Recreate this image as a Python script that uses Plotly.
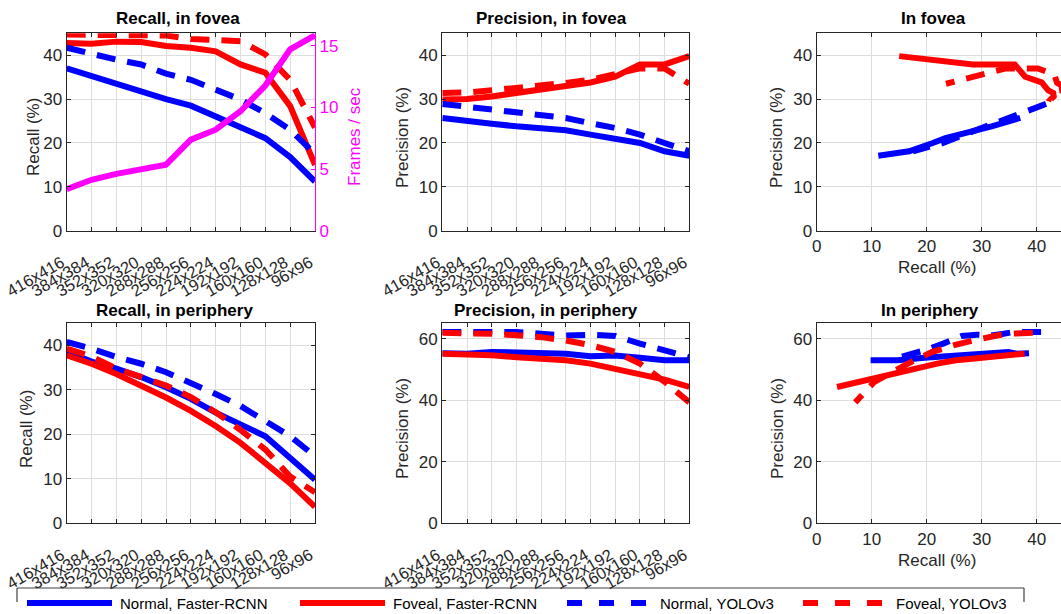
import plotly.graph_objects as go

W, H = 1061, 614

# ---------------- data ----------------
categories = ["416x416", "384x384", "352x352", "320x320", "288x288", "256x256",
              "224x224", "192x192", "160x160", "128x128", "96x96"]

# Recall, in fovea (%)
recall_fovea_normal_frcnn = [37.0, 35.2, 33.5, 31.8, 30.0, 28.5, 26.1, 23.4, 21.1, 16.8, 11.2]
recall_fovea_foveal_frcnn = [42.8, 42.6, 43.1, 43.0, 42.1, 41.7, 40.9, 37.9, 36.0, 28.4, 15.0]
recall_fovea_normal_yolo = [41.7, 40.2, 39.0, 37.9, 35.8, 34.4, 32.2, 29.9, 26.8, 23.0, 17.5]
recall_fovea_foveal_yolo = [44.7, 44.7, 44.6, 44.5, 44.5, 43.7, 43.6, 43.2, 40.2, 34.4, 23.5]

# Frames per second
fps = [3.37, 4.13, 4.61, 4.94, 5.35, 7.38, 8.19, 9.68, 11.77, 14.7, 15.84]

# Precision, in fovea (%)
prec_fovea_normal_frcnn = [25.7, 24.9, 24.4, 23.8, 23.2, 22.9, 21.9, 21.1, 20.0, 18.1, 17.1]
prec_fovea_foveal_frcnn = [29.9, 30.0, 30.6, 31.4, 32.0, 32.8, 33.8, 35.1, 37.9, 37.9, 39.8]
prec_fovea_normal_yolo = [28.9, 28.2, 27.8, 27.1, 26.1, 25.7, 24.5, 23.4, 21.9, 20.0, 18.1]
prec_fovea_foveal_yolo = [31.4, 31.5, 32.0, 32.5, 33.1, 33.7, 34.4, 35.6, 37.0, 37.0, 33.5]

# Recall, in periphery (%)
recall_peri_normal_frcnn = [38.6, 36.4, 34.8, 32.9, 30.6, 28.0, 24.9, 22.2, 19.6, 14.7, 9.8]
recall_peri_foveal_frcnn = [37.8, 35.9, 33.6, 31.0, 28.3, 25.3, 21.9, 18.1, 13.6, 9.0, 3.7]
recall_peri_normal_yolo = [40.8, 39.3, 37.4, 35.9, 34.0, 31.7, 29.1, 26.4, 23.0, 19.6, 15.1]
recall_peri_foveal_yolo = [39.3, 37.5, 34.8, 33.0, 31.0, 28.4, 25.0, 21.0, 16.6, 10.5, 7.0]

# Precision, in periphery (%)
prec_peri_normal_frcnn = [55.3, 55.1, 55.7, 55.5, 55.3, 55.1, 54.3, 54.5, 53.8, 53.0, 53.0]
prec_peri_foveal_frcnn = [55.1, 54.9, 54.6, 54.0, 53.5, 53.0, 51.9, 50.3, 48.6, 46.7, 44.3]
prec_peri_normal_yolo = [62.2, 62.2, 62.2, 62.2, 61.6, 61.0, 61.3, 60.9, 58.4, 56.2, 54.0]
prec_peri_foveal_yolo = [61.9, 61.9, 61.6, 61.1, 60.5, 59.4, 57.9, 55.7, 51.9, 46.0, 39.3]

series_names = ["Normal, Faster-RCNN", "Foveal, Faster-RCNN", "Normal, YOLOv3", "Foveal, YOLOv3"]

# ---------------- styles ----------------
BLUE, RED, MAGENTA = "#0000FF", "#FF0000", "#FF00FF"
LW = 6
DASH = "19px,12px"
styles = [dict(color=BLUE, width=LW, dash="solid"),
          dict(color=RED, width=LW, dash="solid"),
          dict(color=BLUE, width=LW, dash=DASH),
          dict(color=RED, width=LW, dash=DASH)]
FONT = "Liberation Sans, Arial, Helvetica, sans-serif"
AXC = "#262626"
GRID = "#DEDEDE"


def px_x(p):
    return p / W


def px_y(p):
    return 1 - p / H


fig = go.Figure()

recall_fovea = [recall_fovea_normal_frcnn, recall_fovea_foveal_frcnn, recall_fovea_normal_yolo, recall_fovea_foveal_yolo]
prec_fovea = [prec_fovea_normal_frcnn, prec_fovea_foveal_frcnn, prec_fovea_normal_yolo, prec_fovea_foveal_yolo]
recall_peri = [recall_peri_normal_frcnn, recall_peri_foveal_frcnn, recall_peri_normal_yolo, recall_peri_foveal_yolo]
prec_peri = [prec_peri_normal_frcnn, prec_peri_foveal_frcnn, prec_peri_normal_yolo, prec_peri_foveal_yolo]

# panel 1: recall fovea
for i in range(4):
    fig.add_trace(go.Scatter(x=categories, y=recall_fovea[i], mode="lines", line=styles[i],
                             xaxis="x", yaxis="y", showlegend=False, name=series_names[i]))
fig.add_trace(go.Scatter(x=categories, y=fps, mode="lines", line=dict(color=MAGENTA, width=LW),
                         xaxis="x", yaxis="y7", showlegend=False, name="Frames / sec"))
# panel 2: precision fovea
for i in range(4):
    fig.add_trace(go.Scatter(x=categories, y=prec_fovea[i], mode="lines", line=styles[i],
                             xaxis="x2", yaxis="y2", showlegend=False, name=series_names[i]))
# panel 3: P vs R fovea
for i in range(4):
    fig.add_trace(go.Scatter(x=recall_fovea[i], y=prec_fovea[i], mode="lines", line=styles[i],
                             xaxis="x3", yaxis="y3", showlegend=False, name=series_names[i]))
# panel 4: recall periphery
for i in range(4):
    fig.add_trace(go.Scatter(x=categories, y=recall_peri[i], mode="lines", line=styles[i],
                             xaxis="x4", yaxis="y4", showlegend=False, name=series_names[i]))
# panel 5: precision periphery
for i in range(4):
    fig.add_trace(go.Scatter(x=categories, y=prec_peri[i], mode="lines", line=styles[i],
                             xaxis="x5", yaxis="y5", showlegend=False, name=series_names[i]))
# panel 6: P vs R periphery
for i in range(4):
    fig.add_trace(go.Scatter(x=recall_peri[i], y=prec_peri[i], mode="lines", line=styles[i],
                             xaxis="x6", yaxis="y6", showlegend=False, name=series_names[i]))

# ---------------- axes ----------------
col_x = [(66.7, 315.0), (442.3, 689.3), (816.7, W)]
row_y = [(33.3, 230.7), (323.3, 523.3)]

tickfont = dict(family=FONT, size=17, color=AXC)


def xdom(c):
    return [px_x(col_x[c][0]), px_x(col_x[c][1])]


def ydom(r):
    return [px_y(row_y[r][1]), px_y(row_y[r][0])]


common = dict(showline=True, linecolor=AXC, linewidth=1.3, ticks="inside", ticklen=4,
              tickcolor=AXC, showgrid=True, gridcolor=GRID, gridwidth=1, zeroline=False,
              tickfont=tickfont, automargin=False)

cat_x = dict(common, type="category", range=[0, len(categories) - 1], tickangle=-30,
             tickmode="linear", tick0=0, dtick=1, mirror="ticks",
             tickfont=dict(family=FONT, size=16.5, color=AXC),
             ticklabelstandoff=15, ticklabelshift=-5)
num_x_range = (col_x[2][1] - col_x[2][0]) / 5.5
num_x = dict(common, range=[0, num_x_range], dtick=10, mirror="ticks")

layout = dict(
    width=W, height=H, margin=dict(l=0, r=0, t=0, b=0, autoexpand=False),
    paper_bgcolor="white", plot_bgcolor="white",
    font=dict(family=FONT, color=AXC),
    xaxis=dict(cat_x, domain=xdom(0), anchor="y"),
    yaxis=dict(common, domain=ydom(0), anchor="x", range=[0, 45], dtick=10, mirror=False),
    yaxis7=dict(common, overlaying="y", side="right", anchor="x", range=[0, 16], dtick=5,
                linecolor=MAGENTA, tickcolor=MAGENTA, showgrid=False,
                tickfont=dict(family=FONT, size=17, color=MAGENTA)),
    xaxis2=dict(cat_x, domain=xdom(1), anchor="y2"),
    yaxis2=dict(common, domain=ydom(0), anchor="x2", range=[0, 45], dtick=10, mirror="ticks"),
    xaxis3=dict(num_x, domain=xdom(2), anchor="y3"),
    yaxis3=dict(common, domain=ydom(0), anchor="x3", range=[0, 45], dtick=10, mirror=False),
    xaxis4=dict(cat_x, domain=xdom(0), anchor="y4"),
    yaxis4=dict(common, domain=ydom(1), anchor="x4", range=[0, 45], dtick=10, mirror="ticks"),
    xaxis5=dict(cat_x, domain=xdom(1), anchor="y5"),
    yaxis5=dict(common, domain=ydom(1), anchor="x5", range=[0, 65], dtick=20, mirror="ticks"),
    xaxis6=dict(num_x, domain=xdom(2), anchor="y6"),
    yaxis6=dict(common, domain=ydom(1), anchor="x6", range=[0, 65], dtick=20, mirror=False),
    showlegend=False,
)
fig.update_layout(layout)

# ---------------- titles & labels ----------------
ann = []


def text(x, y, s, size=17, bold=False, color="#000000", angle=0, xanchor="center"):
    ann.append(dict(x=px_x(x), y=px_y(y), xref="paper", yref="paper", showarrow=False,
                    text=f"<b>{s}</b>" if bold else s, textangle=angle, xanchor=xanchor,
                    yanchor="middle", font=dict(family=FONT, size=size, color=color)))


text(177.5, 18, "Recall, in fovea", bold=True)
text(551, 18, "Precision, in fovea", bold=True)
text(933, 18, "In fovea", bold=True)
text(174, 310, "Recall, in periphery", bold=True)
text(546, 310, "Precision, in periphery", bold=True)
text(930, 310, "In periphery", bold=True)

text(33, 137, "Recall (%)", color=AXC, angle=-90)
text(354, 137, "Frames / sec", color=MAGENTA, angle=-90)
text(402, 138, "Precision (%)", color=AXC, angle=-90)
text(776, 138, "Precision (%)", color=AXC, angle=-90)
text(937, 267, "Recall (%)", color=AXC)
text(26, 429, "Recall (%)", color=AXC, angle=-90)
text(402, 429, "Precision (%)", color=AXC, angle=-90)
text(777, 429, "Precision (%)", color=AXC, angle=-90)
text(937, 560, "Recall (%)", color=AXC)

# ---------------- legend (drawn) ----------------
shapes = []
box_l, box_r, box_t, box_b = 17, 1024, 588, 602
for (x0, y0, x1, y1) in [(box_l, box_t, box_r, box_t), (box_l, box_t, box_l, box_b), (box_r, box_t, box_r, box_b)]:
    shapes.append(dict(type="line", xref="paper", yref="paper", x0=px_x(x0), y0=px_y(y0),
                       x1=px_x(x1), y1=px_y(y1), line=dict(color="#404040", width=1.2)))

leg_y = 603
leg_items = [(27, 112, 118), (300, 385, 391), (567, 647, 658), (803, 883, 894)]
for i, (l0, l1, tx) in enumerate(leg_items):
    st = styles[i]
    shapes.append(dict(type="line", xref="paper", yref="paper", x0=px_x(l0), y0=px_y(leg_y),
                       x1=px_x(l1), y1=px_y(leg_y),
                       line=dict(color=st["color"], width=6,
                                 dash="solid" if st["dash"] == "solid" else "15px,17px")))
    text(tx, leg_y, series_names[i], size=15, color="#000000", xanchor="left")

fig.update_layout(annotations=ann, shapes=shapes)

fig.write_html("out.html")
